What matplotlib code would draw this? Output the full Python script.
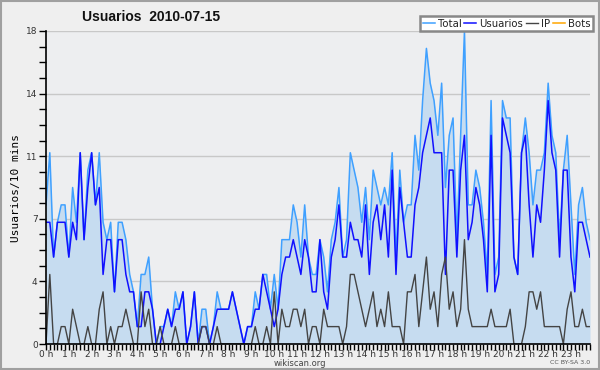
import matplotlib
matplotlib.use("Agg")
import matplotlib.pyplot as plt
from matplotlib.patches import Rectangle
from matplotlib.ticker import FixedLocator, MultipleLocator

# 10-minute slots for 2010-07-15 (144 points)
usuarios = [
    7, 7, 5, 7, 7, 7, 5, 7, 6, 11,
    6, 9, 11, 8, 9, 4, 6, 6, 3, 6,
    6, 4, 3, 3, 1, 1, 3, 3, 2, 0,
    0, 1, 2, 1, 2, 2, 3, 0, 1, 3,
    0, 1, 1, 0, 1, 2, 2, 2, 2, 3,
    2, 1, 0, 1, 1, 2, 2, 4, 3, 2,
    1, 2, 4, 5, 5, 6, 5, 4, 6, 5,
    3, 3, 6, 3, 2, 5, 6, 8, 5, 5,
    7, 6, 6, 5, 8, 4, 7, 8, 6, 8,
    5, 10, 4, 9, 7, 5, 5, 8, 9, 11,
    12, 13, 11, 11, 11, 4, 10, 10, 5, 10,
    12, 6, 7, 9, 8, 6, 3, 12, 3, 4,
    13, 12, 11, 5, 4, 11, 12, 8, 5, 8,
    7, 10, 14, 11, 10, 5, 10, 10, 5, 3,
    7, 7, 6, 5,
]
ip = [
    0, 4, 0, 0, 1, 1, 0, 2, 1, 0,
    0, 1, 0, 0, 2, 3, 0, 1, 0, 1,
    1, 2, 1, 0, 0, 3, 1, 2, 0, 0,
    1, 0, 0, 0, 1, 0, 0, 0, 0, 0,
    0, 1, 1, 0, 0, 1, 0, 0, 0, 0,
    0, 0, 0, 0, 0, 1, 0, 0, 1, 0,
    3, 0, 2, 1, 1, 2, 2, 1, 2, 0,
    1, 1, 0, 2, 1, 1, 1, 1, 0, 1,
    4, 4, 3, 2, 1, 2, 3, 1, 2, 1,
    3, 1, 1, 1, 0, 3, 3, 4, 1, 3,
    5, 2, 3, 1, 4, 5, 2, 3, 1, 2,
    6, 2, 1, 1, 1, 1, 1, 2, 1, 1,
    1, 1, 2, 0, 0, 0, 1, 3, 3, 2,
    3, 1, 1, 1, 1, 1, 0, 2, 3, 1,
    1, 2, 1, 1,
]
total = [
    8, 11, 5, 7, 8, 8, 5, 9, 7, 11,
    6, 10, 11, 8, 11, 7, 6, 7, 3, 7,
    7, 6, 4, 3, 1, 4, 4, 5, 2, 0,
    1, 1, 2, 1, 3, 2, 3, 0, 1, 3,
    0, 2, 2, 0, 1, 3, 2, 2, 2, 3,
    2, 1, 0, 1, 1, 3, 2, 4, 4, 2,
    4, 2, 6, 6, 6, 8, 7, 5, 8, 5,
    4, 4, 6, 5, 3, 6, 7, 9, 5, 6,
    11, 10, 9, 7, 9, 6, 10, 9, 8, 9,
    8, 11, 5, 10, 7, 8, 8, 12, 10, 14,
    17, 15, 14, 12, 15, 9, 12, 13, 6, 12,
    18, 8, 8, 10, 9, 7, 4, 14, 4, 5,
    14, 13, 13, 5, 4, 11, 13, 11, 8, 10,
    10, 11, 15, 12, 11, 6, 10, 12, 8, 4,
    8, 9, 7, 6,
]
slots = list(range(len(total)))

y_ticks = [0, 3.6, 7.2, 10.8, 14.4, 18]
y_labels = ["0", "4", "7", "11", "14", "18"]
hour_labels = [f"{h} h" for h in range(24)]

fig = plt.figure(figsize=(6, 3.7), dpi=100)
fig.patch.set_facecolor("#efefef")
ax = fig.add_axes([46 / 600, 26 / 370, 544 / 600, 313 / 370])
ax.set_facecolor("#edeef0")

# filled total + lines
ax.fill_between(slots, total, 0, color="#c6dcf0", lw=0)
ax.plot(slots, total, color="#3fa0ff", lw=1.1, label="Total")
ax.plot(slots, usuarios, color="#1010ff", lw=1.1, label="Usuarios")
ax.plot(slots, ip, color="#444444", lw=1.0, label="IP")
ax.plot([], [], color="#ffa500", lw=1.1, label="Bots")

ax.set_xlim(0, 143)
ax.set_ylim(0, 18)

ax.yaxis.set_major_locator(FixedLocator(y_ticks))
ax.set_yticklabels(y_labels)
ax.yaxis.set_minor_locator(MultipleLocator(0.9))
ax.xaxis.set_major_locator(FixedLocator([h * 6 for h in range(24)]))
ax.set_xticklabels(hour_labels)
ax.xaxis.set_minor_locator(MultipleLocator(1))

ax.tick_params(axis="both", which="both", direction="out", color="black", width=1)
ax.tick_params(axis="y", which="major", length=5, labelsize=6.5, labelcolor="#333333", pad=1)
ax.tick_params(axis="y", which="minor", length=5)
ax.tick_params(axis="x", which="major", length=4, labelsize=6.5, labelcolor="#333333", pad=0)
ax.tick_params(axis="x", which="minor", length=4)

ax.grid(axis="y", which="major", color="#c8c8c8", lw=1)
ax.set_axisbelow(True)
for side in ["top", "right"]:
    ax.spines[side].set_visible(False)
for side in ["left", "bottom"]:
    ax.spines[side].set_color("black")
    ax.spines[side].set_linewidth(1.2)

ax.set_ylabel("Usuarios/10 mins", fontsize=8, family="DejaVu Sans Mono", labelpad=4)

fig.text(151 / 600, 1 - 17 / 370, "Usuarios  2010-07-15", ha="center", va="center",
         fontsize=10, fontweight="bold", family="Liberation Sans", color="#111111")

leg = ax.legend(loc="upper right", bbox_to_anchor=(593 / 600, 1 - 16 / 370),
                bbox_transform=fig.transFigure, ncol=4, fontsize=7.3,
                handlelength=1.2, handletextpad=0.3, columnspacing=0.25,
                borderpad=0.25, borderaxespad=0, fancybox=False, framealpha=1)
leg.get_frame().set_edgecolor("#888888")
leg.get_frame().set_linewidth(1.8)
for t in leg.get_texts():
    t.set_color("#222222")

fig.text(300 / 600, 1 - 363 / 370, "wikiscan.org", ha="center", va="center",
         fontsize=6, color="#444444")
fig.text(590 / 600, 1 - 363 / 370, "CC BY-SA 3.0", ha="right", va="center",
         fontsize=4.5, color="#555555")

# outer frame
fig.patches.append(Rectangle((0.002, 0.003), 0.996, 0.994, transform=fig.transFigure,
                             fill=False, edgecolor="#a0a0a0", lw=1.5))

fig.savefig("out.png", dpi=100, facecolor=fig.get_facecolor())
